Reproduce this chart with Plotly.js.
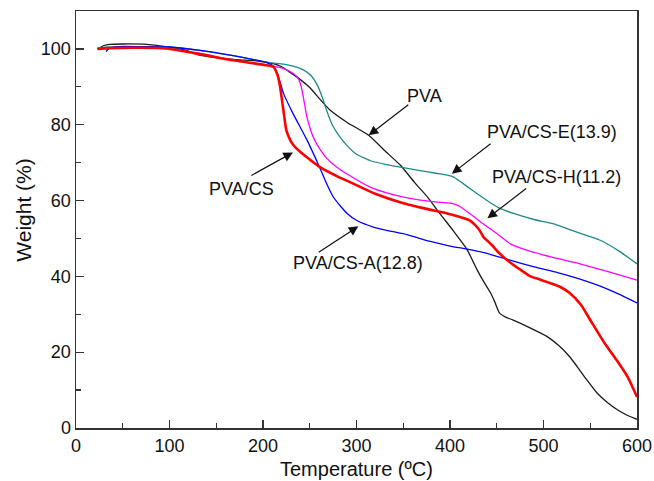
<!DOCTYPE html>
<html>
<head>
<meta charset="utf-8">
<script src="https://cdn.plot.ly/plotly-3.0.1.min.js"></script>
<style>html,body{margin:0;padding:0;background:#fff;}#chart{width:654px;height:481px;}</style>
</head>
<body>
<div id="chart"></div>
<script>
// PVA (black)
const pvaT = [23, 30, 36, 50, 76, 90, 105, 118, 133, 150, 161, 175, 190, 200, 211, 220, 229, 240, 250, 261, 272, 290, 313, 330, 347, 362, 376, 389, 403, 418, 429, 437, 443, 448, 453, 460, 467, 485, 504, 516, 528, 536, 546, 557, 568, 579, 590, 600];
const pvaW = [100, 100.9, 101.2, 101.3, 101.2, 100.8, 100.3, 99.6, 98.3, 97.7, 97.4, 97.1, 96.9, 96.6, 96.1, 95.3, 93.8, 91.9, 89.8, 86.7, 83.8, 80.6, 77.2, 73.2, 69.3, 64.8, 60.9, 56.6, 52.2, 47.2, 41.7, 38.2, 35.8, 33.2, 30.3, 29.2, 28.5, 26.5, 24.1, 21.8, 18.8, 16.2, 12.8, 9.3, 6.8, 4.8, 3.3, 2.3];
// PVA/CS-E(13.9) (teal)
const eT = [23, 35, 60, 97, 130, 168, 207, 222, 236, 245, 252, 258, 263, 268, 274, 281, 290, 300, 315, 332, 350, 368, 385, 397, 404, 411, 425, 439, 453, 468, 490, 510, 532, 560, 580, 600];
const eW = [100.2, 100.5, 100.6, 100.5, 99.7, 98.2, 96.4, 96, 95.2, 94.2, 92.8, 90.5, 87.5, 83.8, 80, 77.2, 74.5, 72.2, 70.5, 69.5, 68.7, 67.9, 67.2, 66.7, 66.2, 65, 62.5, 60.1, 58, 56.6, 55, 53.9, 52, 49.6, 46.8, 43.3];
// PVA/CS-H(11.2) (magenta)
const hT = [23, 35, 60, 97, 133, 168, 204, 222, 232, 237, 240, 243, 247, 254, 261, 268, 279, 290, 314, 340, 368, 390, 403, 410, 421, 432, 450, 465, 482, 510, 539, 570, 600];
const hW = [100, 100.2, 100.3, 100.1, 98.8, 97, 95.7, 94.8, 93.6, 92.5, 90.8, 87.5, 82, 76.6, 73.5, 71.2, 68.8, 67, 63.6, 61.5, 60.1, 59.5, 59.2, 58.5, 56.6, 54.5, 51.3, 48.5, 46.9, 45, 43.3, 41.2, 39];
// PVA/CS (red)
const csT = [23, 35, 70, 97, 133, 168, 204, 211, 215, 218, 222, 225, 229, 232, 240, 247, 257, 261, 280, 297, 320, 350, 375, 397, 410, 421, 427, 432, 436, 439, 445, 452, 461, 475, 486, 496, 510, 518, 528, 540, 550, 565, 578, 590, 600];
const csW = [100, 100.2, 100.3, 100.1, 98.6, 97, 95.7, 95.3, 93.5, 90.5, 83.5, 78.5, 76, 74.8, 72.8, 71.4, 69.5, 68.8, 66.3, 64.4, 61.8, 59.3, 57.8, 56.6, 55.7, 54.8, 53.5, 52, 50.3, 49.6, 48.2, 46.3, 44.3, 41.8, 40, 39.2, 38, 37.2, 35.6, 32.5, 28.5, 22.5, 18, 13.5, 8.2];
// PVA/CS-A(12.8) (blue)
const aT = [32, 36, 45, 70, 100, 133, 168, 204, 211, 215, 218, 222, 232, 247, 261, 268, 275, 283, 290, 300, 318, 335, 354, 379, 400, 418, 432, 450, 464, 490, 515, 539, 560, 580, 600];
const aW = [99.3, 100.2, 100.6, 100.6, 100.5, 99.6, 98.2, 96.4, 95.5, 93.5, 91.5, 88.2, 83, 76, 68.5, 64.5, 61, 58.5, 56.6, 54.8, 53, 52, 51, 49.2, 48, 47.2, 46.5, 45.3, 44.3, 42.5, 41, 39.3, 37.5, 35.4, 33];

const seriesNames = ['PVA', 'PVA/CS-E(13.9)', 'PVA/CS-H(11.2)', 'PVA/CS', 'PVA/CS-A(12.8)'];
const xTicks = [0, 100, 200, 300, 400, 500, 600];
const yTicks = [0, 20, 40, 60, 80, 100];
const xTitle = 'Temperature (ºC)';
const yTitle = 'Weight (%)';

const mk = (x, y, name, color, w) => ({x, y, name, type: 'scatter', mode: 'lines', line: {color, width: w, shape: 'spline', smoothing: 0.5}, hoverinfo: 'skip'});
const data = [
  mk(pvaT, pvaW, seriesNames[0], '#1a1a1a', 1.3),
  mk(eT, eW, seriesNames[1], '#1f8a8a', 1.3),
  mk(hT, hW, seriesNames[2], '#ff00ff', 1.3),
  mk(aT, aW, seriesNames[4], '#0000ff', 1.3),
  mk(csT, csW, seriesNames[3], '#ff0000', 2.6)
];

const font = 'Liberation Sans, Arial, sans-serif';
const arrow = (x, y, ax, ay) => ({x, y, ax, ay, xref: 'x', yref: 'y', axref: 'x', ayref: 'y', text: '', showarrow: true, arrowhead: 2, arrowsize: 1.6, arrowwidth: 1.2, arrowcolor: '#111'});
const label = (x, y, t) => ({x, y, xref: 'x', yref: 'y', text: t, showarrow: false, font: {family: font, size: 18, color: '#111'}});

const layout = {
  width: 654, height: 481,
  margin: {l: 76, r: 17, t: 11, b: 53},
  paper_bgcolor: '#fff', plot_bgcolor: '#fff',
  showlegend: false,
  font: {family: font, size: 18, color: '#111'},
  xaxis: {
    range: [0, 600], tickvals: xTicks, ticktext: xTicks.map(String),
    ticks: 'inside', ticklen: 8, tickwidth: 1.2, tickcolor: '#333',
    minor: {ticks: 'inside', ticklen: 5, tickwidth: 1.2, tickcolor: '#333', dtick: 50, tick0: 0},
    showline: true, linecolor: '#333', linewidth: 1.5, mirror: true,
    showgrid: false, zeroline: false, ticklabelstandoff: 1,
    tickfont: {family: font, size: 18, color: '#111'}
  },
  yaxis: {
    range: [0, 110], tickvals: yTicks, ticktext: yTicks.map(String),
    ticks: 'inside', ticklen: 8, tickwidth: 1.2, tickcolor: '#333',
    minor: {ticks: 'inside', ticklen: 5, tickwidth: 1.2, tickcolor: '#333', dtick: 10, tick0: 0},
    showline: true, linecolor: '#333', linewidth: 1.5, mirror: true,
    showgrid: false, zeroline: false,
    tickfont: {family: font, size: 18, color: '#111'}
  },
  annotations: [
    {xref: 'paper', yref: 'paper', x: 0.5, y: -0.127, xanchor: 'center', yanchor: 'bottom', text: xTitle, showarrow: false, borderpad: 0, font: {family: font, size: 20, color: '#111'}},
    {xref: 'paper', yref: 'paper', x: -0.093, y: 0.523, xanchor: 'center', yanchor: 'middle', textangle: -90, text: yTitle, showarrow: false, font: {family: font, size: 21, color: '#111'}},
    arrow(232, 72.7, 186, 66.4), label(176.5, 63, seriesNames[3]),
    arrow(313, 77.2, 357, 85.6), label(373, 87.5, seriesNames[0]),
    arrow(402, 67.1, 445, 75.3), label(509, 78, seriesNames[1]),
    arrow(440, 55.3, 483, 63.5), label(514, 66.1, seriesNames[2]),
    arrow(302, 53.2, 258, 46.1), label(302, 43.5, seriesNames[4])
  ]
};

Plotly.newPlot('chart', data, layout, {displayModeBar: false, staticPlot: true});
</script>
</body>
</html>
